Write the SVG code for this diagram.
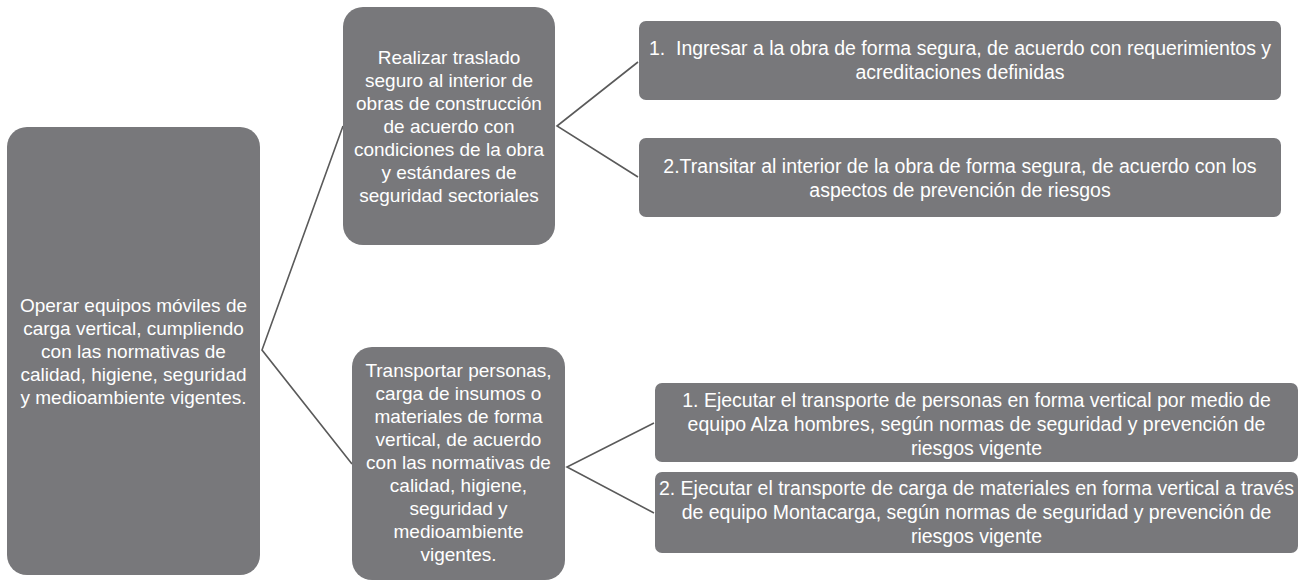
<svg xmlns="http://www.w3.org/2000/svg" width="1311" height="583" viewBox="0 0 1311 583">
<style>
.box{fill:#78787B;}
.t{fill:#FFFFFF;font-family:"Liberation Sans",Arial,sans-serif;text-anchor:middle;dominant-baseline:central;}
.m{font-size:19px;}
.r{font-size:19.5px;}
.c{stroke:#5A5A5A;stroke-width:1.6;fill:none;}
</style>
<rect width="1311" height="583" fill="#FFFFFF"/>
<g id="connectors">
<polyline class="c" points="343,126 262,350 352,464"/>
<polyline class="c" points="638,62 557,126 638,177"/>
<polyline class="c" points="654,423 567,467 654,513"/>
</g>
<g id="root">
<rect class="box" x="7" y="127" width="253" height="448" rx="20"/>
<text class="t m"><tspan x="133.5" y="305">Operar equipos móviles de</tspan><tspan x="133.5" y="328">carga vertical, cumpliendo</tspan><tspan x="133.5" y="351">con las normativas de</tspan><tspan x="133.5" y="374">calidad, higiene, seguridad</tspan><tspan x="133.5" y="397">y medioambiente vigentes.</tspan></text>
</g>
<g id="mid1">
<rect class="box" x="343" y="7" width="212" height="238" rx="20"/>
<text class="t m"><tspan x="449" y="57">Realizar traslado</tspan><tspan x="449" y="80">seguro al interior de</tspan><tspan x="449" y="103">obras de construcción</tspan><tspan x="449" y="126">de acuerdo con</tspan><tspan x="449" y="149">condiciones de la obra</tspan><tspan x="449" y="172">y estándares de</tspan><tspan x="449" y="195">seguridad sectoriales</tspan></text>
</g>
<g id="mid2">
<rect class="box" x="352" y="347" width="213" height="233" rx="20"/>
<text class="t m"><tspan x="458.5" y="370">Transportar personas,</tspan><tspan x="458.5" y="393">carga de insumos o</tspan><tspan x="458.5" y="416">materiales de forma</tspan><tspan x="458.5" y="439">vertical, de acuerdo</tspan><tspan x="458.5" y="462">con las normativas de</tspan><tspan x="458.5" y="485">calidad, higiene,</tspan><tspan x="458.5" y="508">seguridad y</tspan><tspan x="458.5" y="531">medioambiente</tspan><tspan x="458.5" y="554">vigentes.</tspan></text>
</g>
<g id="leaf1">
<rect class="box" x="639" y="21" width="642" height="79" rx="7"/>
<text class="t r"><tspan x="960" y="48" xml:space="preserve">1.  Ingresar a la obra de forma segura, de acuerdo con requerimientos y</tspan><tspan x="960" y="72">acreditaciones definidas</tspan></text>
</g>
<g id="leaf2">
<rect class="box" x="639" y="138" width="642" height="79" rx="7"/>
<text class="t r"><tspan x="960" y="166">2.Transitar al interior de la obra de forma segura, de acuerdo con los</tspan><tspan x="960" y="190">aspectos de prevención de riesgos</tspan></text>
</g>
<g id="leaf3">
<rect class="box" x="655" y="383" width="643" height="79" rx="7"/>
<text class="t r"><tspan x="976.5" y="400">1. Ejecutar el transporte de personas en forma vertical por medio de</tspan><tspan x="976.5" y="424">equipo Alza hombres, según normas de seguridad y prevención de</tspan><tspan x="976.5" y="448">riesgos vigente</tspan></text>
</g>
<g id="leaf4">
<rect class="box" x="655" y="472" width="643" height="81" rx="7"/>
<text class="t r"><tspan x="976.5" y="488">2. Ejecutar el transporte de carga de materiales en forma vertical a través</tspan><tspan x="976.5" y="512">de equipo Montacarga, según normas de seguridad y prevención de</tspan><tspan x="976.5" y="536">riesgos vigente</tspan></text>
</g>
</svg>
